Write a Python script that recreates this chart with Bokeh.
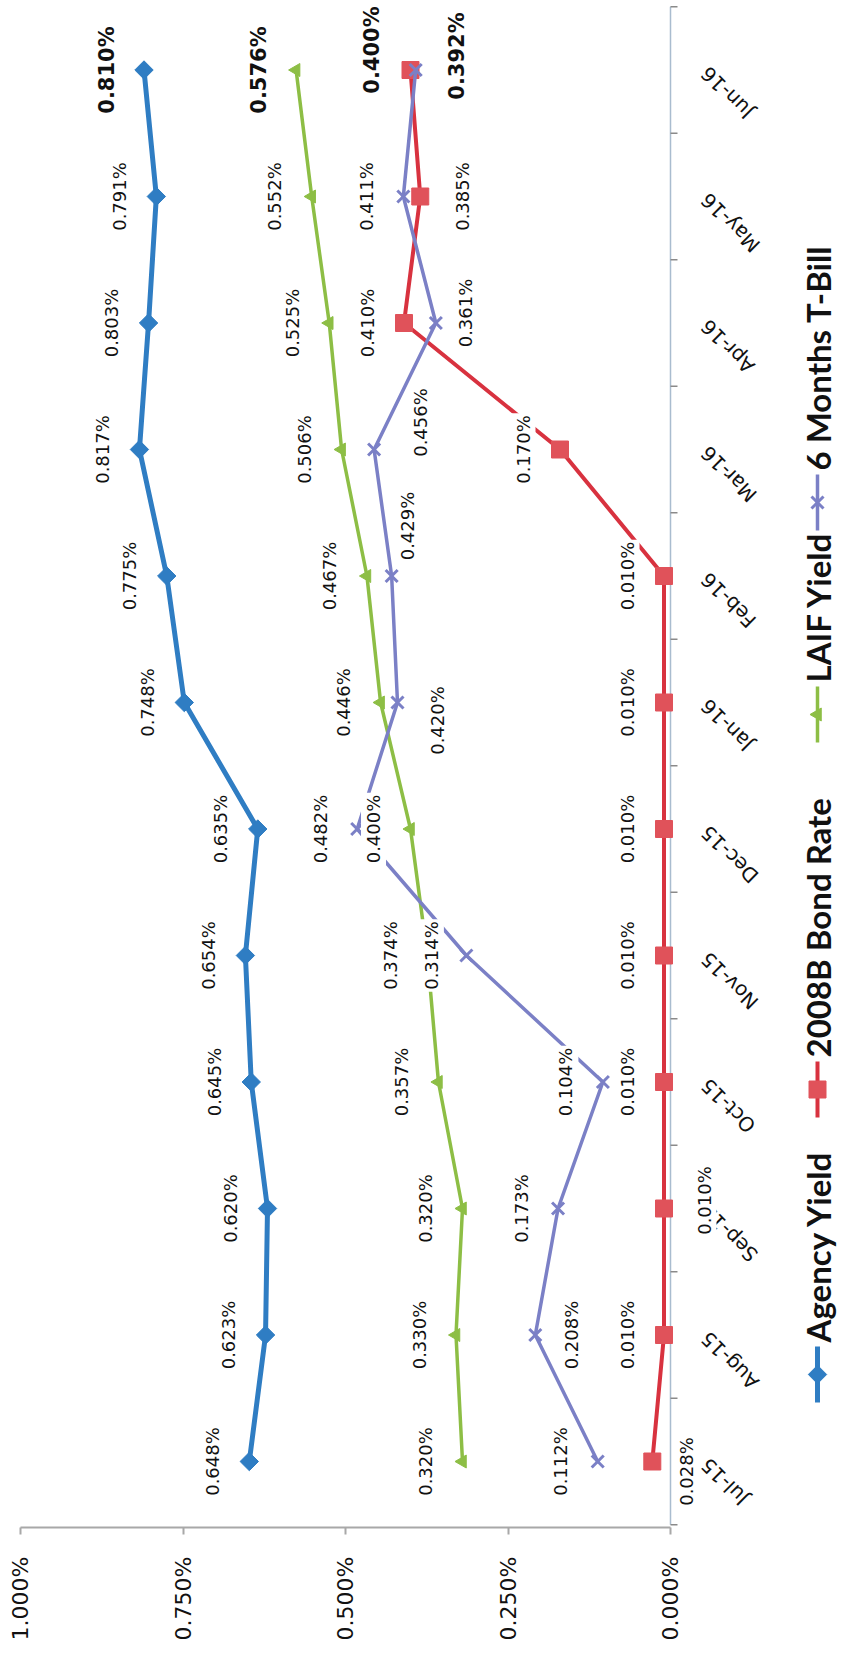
import math
from bokeh.plotting import figure
from bokeh.models import ColumnDataSource, Range1d, FixedTicker, PrintfTickFormatter
from bokeh.core.properties import value
from bokeh.embed import file_html
from bokeh.resources import INLINE

# ---------------- data ----------------
months = ["Jul-15", "Aug-15", "Sep-15", "Oct-15", "Nov-15", "Dec-15",
          "Jan-16", "Feb-16", "Mar-16", "Apr-16", "May-16", "Jun-16"]
agency = [0.648, 0.623, 0.620, 0.645, 0.654, 0.635, 0.748, 0.775, 0.817, 0.803, 0.791, 0.810]
bond = [0.028, 0.010, 0.010, 0.010, 0.010, 0.010, 0.010, 0.010, 0.170, 0.410, 0.385, 0.400]
laif = [0.320, 0.330, 0.320, 0.357, 0.374, 0.400, 0.446, 0.467, 0.506, 0.525, 0.552, 0.576]
tbill = [0.112, 0.208, 0.173, 0.104, 0.314, 0.482, 0.420, 0.429, 0.456, 0.361, 0.411, 0.392]
series_names = ["Agency Yield", "2008B Bond Rate", "LAIF Yield", "6 Months T-Bill"]
value_ticks = [0.0, 0.25, 0.5, 0.75, 1.0]

# ---------------- label placement (screen px offsets, +dy = down) ----------------
agency_dx = [-37] * 12
agency_dy = [0] * 12
laif_dx = [-37] * 12
laif_dy = [0] * 12
tbill_dx = [-37, 36, -37, -37, -35, -37, 40, 16, 46, 30, -37, 41]
tbill_dy = [0, 0, 0, 0, 0, 0, 18, -50, -27, -10, 0, -14]
bond_dx = [34, -37, 40, -37, -37, -37, -37, -37, -37, -37, 42, -39]
bond_dy = [10, 0, -8, 0, 0, 0, 0, 0, 0, 0, 0, -20]

# ---------------- layout ----------------
FIG_W, FIG_H = 845, 1647
BORDER_B = 120
FRAME_H = FIG_H - BORDER_B
PX_PER_UNIT = 650.0          # pixels per 1 %
ZERO_PX = 670.0              # figure x of 0 %
X0 = ZERO_PX / PX_PER_UNIT   # value at left edge
X1 = -(FIG_W - ZERO_PX) / PX_PER_UNIT
CAT_STEP = 126.5
JUL_PY = 1461.0
Y_BOT = (JUL_PY - FRAME_H) / CAT_STEP
Y_TOP = JUL_PY / CAT_STEP


def xd(px):
    return X0 + px * (X1 - X0) / FIG_W


def yd(py):
    return Y_TOP - py * (Y_TOP - Y_BOT) / FRAME_H


p = figure(width=FIG_W, height=FIG_H, output_backend="svg", toolbar_location=None,
           x_range=Range1d(X0, X1), y_range=Range1d(Y_BOT, Y_TOP),
           y_axis_location=None, min_border_left=0, min_border_right=0,
           min_border_top=0, min_border_bottom=BORDER_B)
p.outline_line_color = None
p.grid.grid_line_color = None
p.background_fill_color = "white"
p.border_fill_color = "white"

# value axis (appears at the bottom)
ax = p.xaxis[0]
ax.bounds = (0, 1)
ax.ticker = FixedTicker(ticks=value_ticks)
ax.formatter = PrintfTickFormatter(format="%.3f%%")
ax.major_label_orientation = math.pi / 2
ax.major_label_text_font = "DejaVu Sans"
ax.major_label_text_font_size = "22px"
ax.major_label_text_color = "#111111"
ax.major_label_standoff = 22
ax.axis_line_color = "#a8a8a8"
ax.axis_line_width = 2
ax.major_tick_line_color = "#a8a8a8"
ax.major_tick_line_width = 2
ax.major_tick_out = 7
ax.major_tick_in = 0
ax.minor_tick_line_color = None

idx = list(range(len(months)))

# category axis (vertical line at 0 %)
p.segment(x0=[0], y0=[-0.5], x1=[0], y1=[len(months) - 0.5],
          line_color="#a9bccf", line_width=1.5)
bounds_y = [i - 0.5 for i in range(len(months) + 1)]
tick_len = 7 / PX_PER_UNIT
p.segment(x0=[0] * len(bounds_y), y0=bounds_y, x1=[-tick_len] * len(bounds_y), y1=bounds_y,
          line_color="#8a8a8a", line_width=1.5)

# category labels
p.text(x=[0] * len(months), y=idx, text=months, angle=3 * math.pi / 4,
       x_offset=34, text_align="right", text_baseline="middle",
       text_font=value("DejaVu Sans"), text_font_size="20px", text_color="#111111")

styles = [
    dict(vals=agency, color="#2f7dc3", mcolor="#2f7dc3", lw=5, marker="square", size=13,
         angle=math.pi / 4, dx=agency_dx, dy=agency_dy),
    dict(vals=bond, color="#d8323f", mcolor="#e0525a", lw=4, marker="square", size=17,
         angle=0, dx=bond_dx, dy=bond_dy),
    dict(vals=laif, color="#8dbe45", mcolor="#8dbe45", lw=3.5, marker="triangle", size=13,
         angle=math.pi / 2, dx=laif_dx, dy=laif_dy),
    dict(vals=tbill, color="#7b80c6", mcolor="#7b80c6", lw=3.5, marker="x", size=17,
         angle=0, dx=tbill_dx, dy=tbill_dy),
]

for s in styles:
    p.line(x=s["vals"], y=idx, line_color=s["color"], line_width=s["lw"])
    p.scatter(x=s["vals"], y=idx, marker=s["marker"], size=s["size"], angle=s["angle"],
              fill_color=s["mcolor"], line_color=s["mcolor"],
              line_width=3 if s["marker"] == "x" else 1)

for s in styles:
    reg = ColumnDataSource(dict(x=s["vals"][:-1], y=idx[:-1],
                                t=["%.3f%%" % v for v in s["vals"][:-1]],
                                dx=s["dx"][:-1], dy=s["dy"][:-1]))
    last = ColumnDataSource(dict(x=s["vals"][-1:], y=idx[-1:],
                                 t=["%.3f%%" % v for v in s["vals"][-1:]],
                                 dx=s["dx"][-1:], dy=s["dy"][-1:]))
    p.text(x="x", y="y", text="t", source=reg, angle=math.pi / 2,
           x_offset="dx", y_offset="dy", text_align="center", text_baseline="middle",
           text_font=value("DejaVu Sans"), text_font_size="18px", text_color="#111111",
           background_fill_color="white", padding=2)
    p.text(x="x", y="y", text="t", source=last, angle=math.pi / 2,
           x_offset="dx", y_offset="dy", text_align="center", text_baseline="middle",
           text_font=value("DejaVu Sans"), text_font_size="21px", text_font_style="bold",
           text_color="#111111", background_fill_color="white", padding=2)

# legend (drawn rotated, right side)
leg_px = 817
leg_centers = [1374, 1089, 714, 502]
half = 28
for s, name, cy in zip(styles, series_names, leg_centers):
    p.segment(x0=[xd(leg_px)], y0=[yd(cy - half)], x1=[xd(leg_px)], y1=[yd(cy + half)],
              line_color=s["color"], line_width=s["lw"])
    p.scatter(x=[xd(leg_px)], y=[yd(cy)], marker=s["marker"], size=s["size"], angle=s["angle"],
              fill_color=s["mcolor"], line_color=s["mcolor"],
              line_width=3 if s["marker"] == "x" else 1)
    p.text(x=[xd(leg_px)], y=[yd(cy - half - 4)], text=[name], angle=math.pi / 2,
           text_align="left", text_baseline="middle",
           text_font=value("Lato"), text_font_size="33px", text_font_style="bold",
           text_color="#111111")

open("out.html", "w").write(file_html(p, INLINE))
